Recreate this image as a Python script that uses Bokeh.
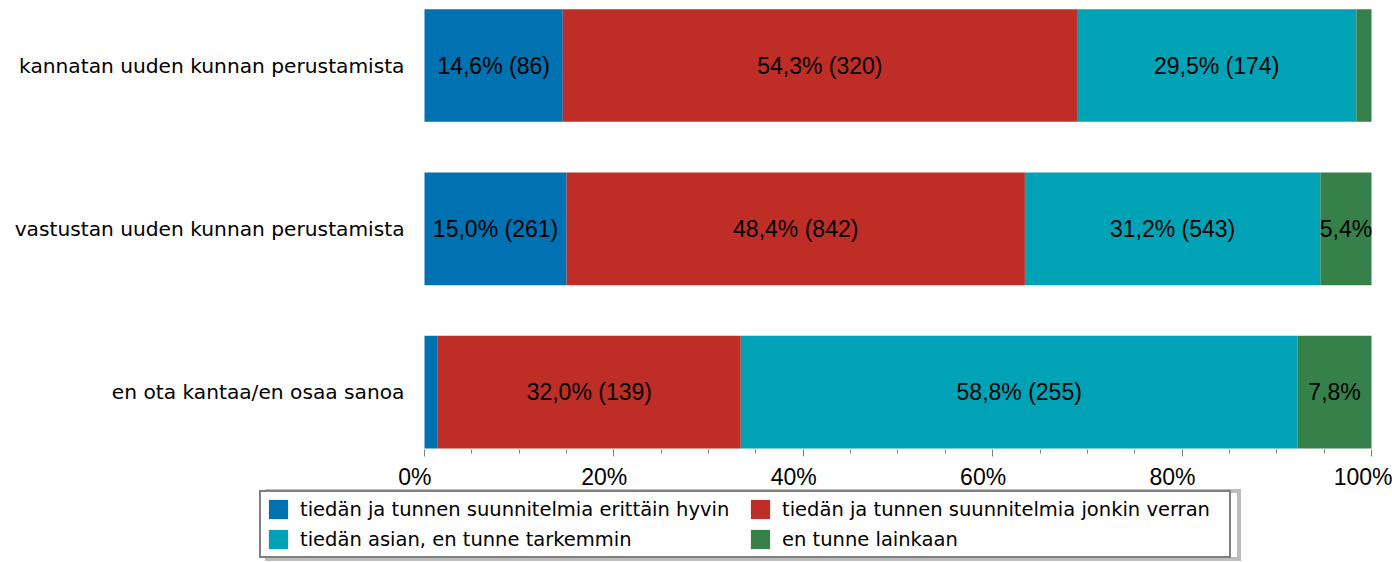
from bokeh.plotting import figure
from bokeh.models import (Range1d, FixedTicker, LinearAxis,
                          Legend, LegendItem, ColumnDataSource)
from bokeh.core.properties import value
from bokeh.embed import file_html
from bokeh.resources import INLINE
import numpy as np

categories = ["kannatan uuden kunnan perustamista",
              "vastustan uuden kunnan perustamista",
              "en ota kantaa/en osaa sanoa"]
series_names = ["tiedän ja tunnen suunnitelmia erittäin hyvin",
                "tiedän ja tunnen suunnitelmia jonkin verran",
                "tiedän asian, en tunne tarkemmin",
                "en tunne lainkaan"]
colors = ["#0071B1", "#BE2E26", "#00A3B5", "#358149"]

# percentages per series (one value per category)
pct_hyvin = [14.6, 15.0, 1.4]
pct_jonkin = [54.3, 48.4, 32.0]
pct_asian = [29.5, 31.2, 58.8]
pct_lainkaan = [1.6, 5.4, 7.8]
# counts per series
n_hyvin = [86, 261, 6]
n_jonkin = [320, 842, 139]
n_asian = [174, 543, 255]
n_lainkaan = [9, 94, 34]

x_ticks = [0, 20, 40, 60, 80, 100]
x_minor_ticks = [5, 10, 15, 25, 30, 35, 45, 50, 55, 65, 70, 75, 85, 90, 95]
x_tick_labels = ["0%", "20%", "40%", "60%", "80%", "100%"]

pcts = [pct_hyvin, pct_jonkin, pct_asian, pct_lainkaan]
counts = [n_hyvin, n_jonkin, n_asian, n_lainkaan]

# the frame covers the whole canvas; axes are placed at fixed locations
p = figure(width=1392, height=562, output_backend="svg", toolbar_location=None,
           x_range=Range1d(-44.773, 102.218), y_range=Range1d(3.043, -0.398),
           min_border_left=0, min_border_right=0, min_border_top=0,
           min_border_bottom=0, x_axis_type=None, y_axis_type=None)
p.outline_line_color = None
p.background_fill_color = "white"
p.border_fill_color = "white"

ys = list(range(len(categories)))
left = np.zeros(len(categories))
renderers = []
lab_x, lab_y, lab_t = [], [], []
for s, (vals, cnts) in enumerate(zip(pcts, counts)):
    right = left + np.array(vals)
    src = ColumnDataSource(dict(y=ys, left=left.copy(), right=right.copy()))
    r = p.hbar(y="y", left="left", right="right", height=0.69, source=src,
               fill_color=colors[s], line_color=None)
    renderers.append(r)
    for i, (v, c) in enumerate(zip(vals, cnts)):
        if v < 3:
            continue
        txt = ("%.1f%%" % v).replace(".", ",")
        if v >= 10:
            txt += " (%d)" % c
        lab_x.append((left[i] + right[i]) / 2)
        lab_y.append(ys[i])
        lab_t.append(txt)
    left = right

p.text(x=lab_x, y=lab_y, text=lab_t, text_align="center", text_baseline="middle",
       text_font=value("Liberation Sans"), text_font_size="23px", text_color="black")

# y axis with category labels, at x = 0 %
yax = LinearAxis(ticker=FixedTicker(ticks=ys, minor_ticks=[]),
                 major_label_overrides={i: c for i, c in zip(ys, categories)},
                 fixed_location=0)
yax.axis_line_color = None
yax.major_tick_line_color = None
yax.major_tick_out = 0
yax.major_tick_in = 0
yax.major_label_standoff = 20
yax.major_label_text_font = "DejaVu Sans"
yax.major_label_text_font_size = "20.2px"
yax.major_label_text_color = "black"
p.add_layout(yax, "left")

# x axis just under the bars (labels sit slightly left of their ticks)
nb = "\u00a0\u00a0\u00a0"
xlabels = {t: (l + nb if t != x_ticks[-1] else l) for t, l in zip(x_ticks, x_tick_labels)}
xax = LinearAxis(ticker=FixedTicker(ticks=x_ticks, minor_ticks=x_minor_ticks),
                 major_label_overrides=xlabels, fixed_location=2.35)
xax.axis_line_color = None
xax.major_tick_line_color = "#808080"
xax.minor_tick_line_color = "#808080"
xax.major_tick_out = 7
xax.major_tick_in = 0
xax.minor_tick_out = 4
xax.minor_tick_in = 0
xax.major_label_standoff = 8
xax.major_label_text_font = "Liberation Sans"
xax.major_label_text_font_size = "23px"
xax.major_label_text_color = "black"
p.add_layout(xax, "below")

# legend shadow (drawn first) and legend
dummies = [p.hbar(y=[], left=[], right=[], height=0.5, fill_alpha=0, line_alpha=0)
           for _ in series_names]
common = dict(orientation="horizontal", nrows=2, ncols=2, glyph_width=24, glyph_height=24,
              label_standoff=10, spacing=6, padding=5, margin=0, label_height=20,
              label_width=442,
              label_text_font="DejaVu Sans", label_text_font_size="19.5px")
shadow = Legend(items=[LegendItem(label=" ", renderers=[d]) for d in dummies],
                location=(265, 1), border_line_color="#7a7a7a", border_line_width=4,
                background_fill_alpha=0, **common)
p.add_layout(shadow, "center")

legend = Legend(items=[LegendItem(label=n, renderers=[r]) for n, r in zip(series_names, renderers)],
                location=(259, 4), border_line_color="black", border_line_width=2,
                background_fill_color="white", background_fill_alpha=1,
                label_text_color="black", **common)
p.add_layout(legend, "center")

open("out.html", "w").write(file_html(p, INLINE))
